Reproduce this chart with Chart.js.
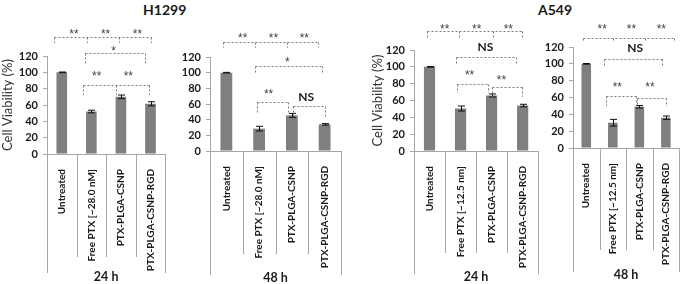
<!DOCTYPE html>
<html>
<head>
<meta charset="utf-8">
<script src="https://cdn.jsdelivr.net/npm/chart.js@4.4.1/dist/chart.umd.min.js"></script>
<style>
  body { margin: 0; background: #fff; width: 685px; height: 284px; position: relative; overflow: hidden; }
  canvas { position: absolute; top: 0; }
  .title { position: absolute; top: 1px; line-height: 18px; font: bold 14px Lato, sans-serif; color: #1a1a1a; }
</style>
</head>
<body>
<div class="title" style="left:143px">H1299</div>
<div class="title" style="left:538px">A549</div>
<canvas id="h1299_24" width="170" height="284" style="left:0px"></canvas>
<canvas id="h1299_48" width="172" height="284" style="left:172px"></canvas>
<canvas id="a549_24" width="172" height="284" style="left:370px"></canvas>
<canvas id="a549_48" width="145" height="284" style="left:540px"></canvas>
<script>
const yTicks = [0, 20, 40, 60, 80, 100, 120];
const h1299Labels = ["Untreated", "Free PTX [~28.0 nM]", "PTX-PLGA-CSNP", "PTX-PLGA-CSNP-RGD"];
const a549Labels = ["Untreated", "Free PTX [~12.5 nm]", "PTX-PLGA-CSNP", "PTX-PLGA-CSNP-RGD"];

const h1299_24h = [100, 52, 70, 61.5];
const h1299_24hErr = [0.4, 1.6, 2.2, 2.5];
const h1299_48h = [100, 28.5, 45.5, 34];
const h1299_48hErr = [0.4, 3, 2.5, 1];
const a549_24h = [100, 50.5, 66, 54];
const a549_24hErr = [0.4, 3, 1.8, 1.5];
const a549_48h = [100, 30, 49, 36];
const a549_48hErr = [0.4, 4, 1.5, 2];

const labelFont = "Lato, sans-serif";
Chart.defaults.animation = false;
Chart.defaults.color = "#1a1a1a";

// significance brackets: x in category units, y in % units
const h1299_24Sig = {
  brackets: [
    { x: [-0.25, 0.85, 1.95, 3.0], y: 143, end: 136 },
    { x: [0.78, 2.83], y: 124, end: 111 },
    { x: [0.71, 1.85, 2.96], y: 84.5, end: 72 },
  ],
  marks: [
    [0.41, 150.6, "**"], [1.48, 150.6, "**"], [2.56, 150.6, "**"],
    [1.75, 130, "*"],
    [1.18, 99, "**"], [2.25, 99, "**"],
  ],
};
const h1299_48Sig = {
  brackets: [
    { x: [-0.11, 0.86, 1.86, 2.8], y: 138.6, end: 132 },
    { x: [0.86, 2.92], y: 108, end: 100 },
    { x: [0.92, 1.89], y: 63, end: 49 },
    { x: [2.02, 3.02], y: 58, end: 44 },
  ],
  marks: [
    [0.5, 147.6, "**"], [1.44, 147.6, "**"], [2.38, 147.6, "**"],
    [1.86, 117, "*"],
    [1.29, 77, "**"], [2.44, 69, "NS"],
  ],
};
const a549_24Sig = {
  brackets: [
    { x: [-0.08, 0.94, 2.03, 2.99], y: 142, end: 135 },
    { x: [0.84, 2.8], y: 112, end: 102.7 },
    { x: [0.88, 1.9], y: 80, end: 69 },
    { x: [2.0, 2.99], y: 76.4, end: 64.5 },
  ],
  marks: [
    [0.49, 148, "**"], [1.52, 148, "**"], [2.54, 148, "**"],
    [1.8, 123, "NS"],
    [1.29, 94, "**"], [2.32, 88, "**"],
  ],
};
const a549_48Sig = {
  brackets: [
    { x: [-0.11, 1.02, 2.23, 3.32], y: 131, end: 126.5 },
    { x: [0.67, 2.86], y: 106, end: 95.5 },
    { x: [0.74, 1.87], y: 62, end: 50 },
    { x: [1.91, 3.0], y: 60, end: 49 },
  ],
  marks: [
    [0.6, 144.5, "**"], [1.7, 144.5, "**"], [2.83, 144.5, "**"],
    [1.84, 119, "NS"],
    [1.17, 76.4, "**"], [2.4, 76.4, "**"],
  ],
};

function makePanel(id, labels, values, errors, group, sig, box) {
  const decor = {
    id: "decor",
    afterDatasetsDraw(chart) {
      const { ctx, chartArea } = chart;
      const xs = chart.scales.x;
      const ys = chart.scales.y;
      ctx.save();

      // error bars
      ctx.strokeStyle = "#111";
      ctx.lineWidth = 1;
      values.forEach((v, i) => {
        const px = Math.round(xs.getPixelForValue(i)) + 0.5;
        const t = ys.getPixelForValue(v + errors[i]);
        const b = ys.getPixelForValue(v - errors[i]);
        ctx.beginPath();
        ctx.moveTo(px, t); ctx.lineTo(px, b);
        ctx.moveTo(px - 3.5, t); ctx.lineTo(px + 3.5, t);
        ctx.moveTo(px - 3.5, b); ctx.lineTo(px + 3.5, b);
        ctx.stroke();
      });

      // category separators below the axis
      ctx.strokeStyle = "#a6a6a6";
      for (let i = 0; i <= labels.length; i++) {
        const px = Math.round(xs.getPixelForValue(i - 0.5)) + 0.5;
        const outer = i === 0 || i === labels.length;
        ctx.beginPath();
        ctx.moveTo(px, chartArea.bottom);
        ctx.lineTo(px, outer ? box.outerEnd : box.innerEnd);
        ctx.stroke();
      }

      // group label
      ctx.fillStyle = "#1a1a1a";
      ctx.font = "bold 12.5px " + labelFont;
      ctx.textAlign = "center";
      ctx.textBaseline = "middle";
      ctx.fillText(group, (chartArea.left + chartArea.right) / 2, box.groupY);

      // brackets
      ctx.strokeStyle = "#7a7a7a";
      ctx.setLineDash([2, 2]);
      sig.brackets.forEach((br) => {
        const py = Math.round(ys.getPixelForValue(br.y)) + 0.5;
        const pe = ys.getPixelForValue(br.end);
        const pxs = br.x.map((v) => Math.round(xs.getPixelForValue(v)) + 0.5);
        ctx.beginPath();
        ctx.moveTo(Math.min(...pxs), py);
        ctx.lineTo(Math.max(...pxs), py);
        pxs.forEach((px) => {
          ctx.moveTo(px, py);
          ctx.lineTo(px, pe);
        });
        ctx.stroke();
      });
      ctx.setLineDash([]);

      sig.marks.forEach(([mx, my, text]) => {
        const px = xs.getPixelForValue(mx);
        const py = ys.getPixelForValue(my);
        if (text === "NS") {
          ctx.font = "bold 12px " + labelFont;
          ctx.fillStyle = "#1a1a1a";
          ctx.textBaseline = "middle";
          ctx.fillText(text, px, py);
        } else {
          ctx.font = "12px 'Liberation Sans', sans-serif";
          ctx.fillStyle = "#444";
          ctx.textBaseline = "alphabetic";
          ctx.fillText(text, px, py + 7);
        }
      });
      ctx.restore();
    },
  };

  new Chart(document.getElementById(id), {
    type: "bar",
    data: {
      labels: labels,
      datasets: [
        {
          data: values,
          backgroundColor: "#7f7f7f",
          barPercentage: 0.36,
          categoryPercentage: 1,
        },
      ],
    },
    options: {
      responsive: false,
      layout: { padding: { top: box.top, right: box.padRight, bottom: 0, left: 0 } },
      plugins: { legend: { display: false }, tooltip: { enabled: false } },
      scales: {
        x: {
          afterFit: (scale) => { scale.height = 284 - box.bottom; },
          grid: { display: false },
          border: { display: true, color: "#a6a6a6" },
          ticks: {
            autoSkip: false,
            minRotation: 90,
            maxRotation: 90,
            padding: 7,
            font: { family: labelFont, size: 10, weight: "bold" },
          },
        },
        y: {
          min: 0,
          max: 120,
          afterFit: (scale) => { scale.width = box.yWidth; },
          afterBuildTicks: (scale) => { scale.ticks = yTicks.map((v) => ({ value: v })); },
          grid: { drawOnChartArea: false, drawTicks: true, tickLength: 4, color: "#a6a6a6" },
          border: { display: true, color: "#a6a6a6" },
          ticks: { autoSkip: false, padding: 5, font: { family: labelFont, size: 11, weight: "bold" } },
          title: {
            display: box.yTitle,
            text: "Cell Viability (%)",
            padding: 0,
            color: "#333",
            font: { family: "Lato, sans-serif", size: 13, weight: "normal" },
          },
        },
      },
    },
    plugins: [decor],
  });
}

makePanel("h1299_24", h1299Labels, h1299_24h, h1299_24hErr, "24 h", h1299_24Sig,
  { top: 56, bottom: 154, yWidth: 47, padRight: 4, innerEnd: 257, outerEnd: 273, groupY: 277, yTitle: true });
makePanel("h1299_48", h1299Labels, h1299_48h, h1299_48hErr, "48 h", h1299_48Sig,
  { top: 57, bottom: 151, yWidth: 38, padRight: 3, innerEnd: 254, outerEnd: 275, groupY: 278, yTitle: false });
makePanel("a549_24", a549Labels, a549_24h, a549_24hErr, "24 h", a549_24Sig,
  { top: 50, bottom: 151, yWidth: 44, padRight: 3, innerEnd: 253, outerEnd: 274, groupY: 277, yTitle: true });
makePanel("a549_48", a549Labels, a549_48h, a549_48hErr, "48 h", a549_48Sig,
  { top: 47, bottom: 148, yWidth: 33, padRight: 1, innerEnd: 250, outerEnd: 272, groupY: 275, yTitle: false });
</script>
</body>
</html>
